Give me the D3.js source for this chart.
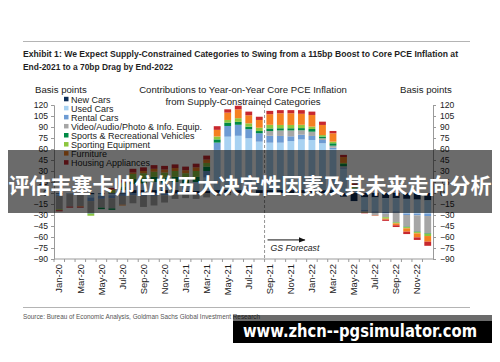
<!DOCTYPE html>
<html>
<head>
<meta charset="utf-8">
<script src="https://cdn.jsdelivr.net/npm/d3@7"></script>
<style>
  body { margin: 0; background: #fff; }
  svg { display: block; }
</style>
</head>
<body>
<div id="chart"></div>
<script>
// months on the x axis
var months = ['Jan-20','Feb-20','Mar-20','Apr-20','May-20','Jun-20','Jul-20','Aug-20','Sep-20','Oct-20','Nov-20','Dec-20',
  'Jan-21','Feb-21','Mar-21','Apr-21','May-21','Jun-21','Jul-21','Aug-21','Sep-21','Oct-21','Nov-21','Dec-21',
  'Jan-22','Feb-22','Mar-22','Apr-22','May-22','Jun-22','Jul-22','Aug-22','Sep-22','Oct-22','Nov-22','Dec-22'];

// contributions in basis points, one array per category
var newCars = [-1,-0.5,-1,-2,-1,-1,-1, 4,4,4,4,4, 3,3,3,4,4.8,4,4,4,4,4,4,4, 4,4,4,-5,-11,-6,-6,-7,-7,-8,-9,-10];
var usedCars = [-2,-1,-1,-4,-3,-2,4, 8,9,11,10,11, 10,12,18,54.7,72,74,70.6,66,64.6,64.6,66.8,69, 68.3,63.8,55.5,33,3,-17,-19,-19,-18,-20,-19,-18];
var rentalCars = [-1,0,0,-5,-4,-4,-3, -3,-4,-4,-3,-2, -2,-2,9,10,14.6,15,12.4,11.5,9.4,9.2,6.5,6.5, 5.5,4.5,2.3,2,1,-2,-2,-2,-2,-2,-2.5,-3.4];
var videoAudio = [-18,-17,-16,-17,-12,-14,-12, -11,-15,-13,-10,-6, -5,-6,-6,-4,-3,-2,0,0,6.5,7.5,8,6, 5.8,2.3,2.7,1.5,1,-1.5,-3,-5,-12.6,-16,-22.2,-23.6];
var sportsRecVehicles = [0,0,0,-0.5,-2,-2,5, 7,7,7,7,7, 7,7,6,4.4,4.6,4,3.5,3,3.5,3,3,3, 3.7,2.4,3.3,3,2,0,0,0,-0.5,-0.5,-0.6,-0.7];
var sportingEquipment = [-1,0,0,-2.5,0,4,5, 7,7,7,7,8, 7,8,5,4,3.6,5,4.5,4.5,5,4.5,4.5,4.5, 3.2,2,2.2,1.5,1,-0.3,-0.3,-2,-1.3,-1.7,-1.7,-3];
var furniture = [-0.5,0,-0.8,0,0,1,-1, 2,3,4,4,4, 4,5,4.5,9,10,12,11,10.6,14.5,15.9,15.9,15, 15.9,13.8,11.4,8,3,-0.4,-0.2,-1.4,-2.6,-4.5,-5.5,-7.7];
var housingAppliances = [-1.5,-1.5,-1.2,0,0,2,4, 5,5,5,5,5, 5,5,5.5,5,4.5,5,5,4.4,4.5,4.3,4.3,5, 4.6,4.5,3.2,3,2,-0.5,-0.5,-1.6,-2.4,-3.3,-3.5,-5.6];

var seriesNames = ['New Cars','Used Cars','Rental Cars','Video/Audio/Photo & Info. Equip.',
  'Sports & Recreational Vehicles','Sporting Equipment','Furniture','Housing Appliances'];
var seriesValues = [newCars, usedCars, rentalCars, videoAudio, sportsRecVehicles, sportingEquipment, furniture, housingAppliances];
var seriesColors = ['#0c2c56','#a8d2f2','#6d9bd3','#a6a6a6','#008a45','#8cc63e','#f58021','#c8282e'];

var yTicks = d3.range(-90, 121, 15);
var xLabels = months.filter(function(m, i) { return i % 2 === 0; });
var forecastStart = 'Sep-21';

var width = 500, height = 362;
var svg = d3.select('#chart').append('svg').attr('width', width).attr('height', height)
  .style('font-family', '"Liberation Sans", Arial, sans-serif');

// header
svg.append('line').attr('x1', 23).attr('x2', 470).attr('y1', 41.5).attr('y2', 41.5)
  .attr('stroke', '#b4b4b4').attr('stroke-width', 1);
var title = svg.append('g').style('font-family', '"Liberation Sans Narrow", "Arial Narrow", "Liberation Sans", sans-serif')
  .style('font-weight', 'bold').style('font-size', '9.6px').attr('fill', '#1f1f1f');
title.append('text').attr('x', 23).attr('y', 56.5).attr('textLength', 435).attr('lengthAdjust', 'spacingAndGlyphs')
  .text('Exhibit 1: We Expect Supply-Constrained Categories to Swing from a 115bp Boost to Core PCE Inflation at');
title.append('text').attr('x', 23).attr('y', 70).attr('textLength', 150).attr('lengthAdjust', 'spacingAndGlyphs')
  .text('End-2021 to a 70bp Drag by End-2022');

svg.append('text').attr('x', 35).attr('y', 93).style('font-size', '9.6px').attr('fill', '#222').text('Basis points');
svg.append('text').attr('x', 400).attr('y', 93).style('font-size', '9.6px').attr('fill', '#222').text('Basis points');
svg.append('text').attr('x', 243).attr('y', 93).attr('text-anchor', 'middle').style('font-size', '9.6px').attr('fill', '#222')
  .text('Contributions to Year-on-Year Core PCE Inflation');
svg.append('text').attr('x', 243).attr('y', 104.5).attr('text-anchor', 'middle').style('font-size', '9.6px').attr('fill', '#222')
  .text('from Supply-Constrained Categories');

// scales
var x = d3.scaleBand().domain(months).range([54, 433]).paddingInner(0.35).paddingOuter(0.175);
var y = d3.scaleLinear().domain([-90, 120]).range([259, 105]);

// stacked bars, positives up and negatives down
var table = months.map(function(m, i) {
  var row = { month: m };
  seriesNames.forEach(function(s, j) { row[s] = seriesValues[j][i]; });
  return row;
});
var stack = d3.stack().keys(seriesNames).offset(d3.stackOffsetDiverging);
var layers = stack(table);

var plot = svg.append('g');
plot.selectAll('g.layer').data(layers).enter().append('g')
  .attr('class', 'layer')
  .attr('fill', function(d, i) { return seriesColors[i]; })
  .selectAll('rect').data(function(d) { return d; }).enter().append('rect')
  .attr('x', function(d) { return x(d.data.month); })
  .attr('width', x.bandwidth())
  .attr('y', function(d) { return y(Math.max(d[0], d[1])); })
  .attr('height', function(d) { return Math.abs(y(d[0]) - y(d[1])); });

// axes
var axisColor = '#9a9a9a';
var left = svg.append('g').attr('transform', 'translate(54,0)')
  .call(d3.axisLeft(y).tickValues(yTicks).tickSize(3).tickPadding(3));
var right = svg.append('g').attr('transform', 'translate(433,0)')
  .call(d3.axisRight(y).tickValues(yTicks).tickSize(3).tickPadding(4));
[left, right].forEach(function(a) {
  a.select('.domain').attr('stroke', axisColor);
  a.selectAll('.tick line').attr('stroke', axisColor);
  a.selectAll('.tick text').attr('fill', '#222').style('font-size', '8.6px')
    .style('font-family', '"Liberation Sans", Arial, sans-serif');
});

// bottom axis like the spreadsheet: line at -90, ticks between months
svg.append('line').attr('x1', 54).attr('x2', 433).attr('y1', y(-90)).attr('y2', y(-90)).attr('stroke', axisColor);
svg.append('g').selectAll('line').data(months).enter().append('line')
  .attr('x1', function(m) { return x(m) - x.step() * x.paddingInner() / 2; })
  .attr('x2', function(m) { return x(m) - x.step() * x.paddingInner() / 2; })
  .attr('y1', y(-90)).attr('y2', y(-90) + 3).attr('stroke', axisColor);

svg.append('g').selectAll('text').data(xLabels).enter().append('text')
  .attr('transform', function(m) { return 'translate(' + (x(m) + x.bandwidth() / 2 + 3.2) + ',' + (y(-90) + 5) + ') rotate(-90)'; })
  .attr('text-anchor', 'end').style('font-size', '9.4px').attr('fill', '#222')
  .text(function(m) { return m; });

// forecast marker
var fx = x(forecastStart) - x.step() * x.paddingInner() / 2;
svg.append('line').attr('x1', fx).attr('x2', fx).attr('y1', y(120)).attr('y2', y(-90))
  .attr('stroke', '#7a7a7a').attr('stroke-dasharray', '3,2').attr('stroke-width', 0.8);
svg.append('defs').append('marker').attr('id', 'arrow').attr('viewBox', '0 0 10 10')
  .attr('refX', 9).attr('refY', 5).attr('markerWidth', 7).attr('markerHeight', 7).attr('orient', 'auto')
  .append('path').attr('d', 'M0,1L10,5L0,9Z').attr('fill', '#111');
svg.append('line').attr('x1', fx + 3).attr('x2', x('Dec-21') + x.bandwidth()).attr('y1', y(-64)).attr('y2', y(-64))
  .attr('stroke', '#111').attr('stroke-width', 1).attr('marker-end', 'url(#arrow)');
svg.append('text').attr('x', fx + 6).attr('y', 251).style('font-size', '8.7px').style('font-style', 'italic')
  .attr('fill', '#222').text('GS Forecast');

// legend
var legend = svg.append('g').selectAll('g').data(seriesNames).enter().append('g')
  .attr('transform', function(d, i) { return 'translate(64,' + (99.3 + i * 9.05) + ')'; });
legend.append('rect').attr('x', 0).attr('y', -2.5).attr('width', 4.5).attr('height', 4.5)
  .attr('fill', function(d, i) { return seriesColors[i]; });
legend.append('text').attr('x', 7).attr('y', 3.2).style('font-size', '9px').attr('fill', '#222')
  .text(function(d) { return d; });

// footer
svg.append('line').attr('x1', 23).attr('x2', 470).attr('y1', 307.5).attr('y2', 307.5)
  .attr('stroke', '#b4b4b4').attr('stroke-width', 1);
svg.append('text').attr('x', 23).attr('y', 319).attr('textLength', 237).attr('lengthAdjust', 'spacingAndGlyphs')
  .style('font-family', '"Liberation Sans Narrow", "Arial Narrow", "Liberation Sans", sans-serif')
  .style('font-size', '6.5px').attr('fill', '#555')
  .text('Source: Bureau of Economic Analysis, Goldman Sachs Global Investment Research');

// overlay banner and watermark box
svg.append('rect').attr('x', 8).attr('y', 150).attr('width', 484).attr('height', 63)
  .attr('fill', 'rgba(0,0,0,0.58)');
svg.append('text').attr('x', 250).attr('y', 192.5).attr('text-anchor', 'middle')
  .style('font-family', '"Noto Sans CJK SC", sans-serif').style('font-weight', 'bold').style('font-size', '21px')
  .attr('fill', '#fff').text('评估丰塞卡帅位的五大决定性因素及其未来走向分析');

svg.append('rect').attr('x', 233).attr('y', 315).attr('width', 259).attr('height', 6).attr('fill', 'rgba(0,0,0,0.58)');
svg.append('rect').attr('x', 233).attr('y', 321).attr('width', 259).attr('height', 22).attr('fill', '#000');
svg.append('text').attr('x', 243).attr('y', 337).attr('textLength', 234).attr('lengthAdjust', 'spacingAndGlyphs')
  .style('font-family', '"DejaVu Sans", sans-serif').style('font-weight', 'bold').style('font-size', '17px')
  .attr('fill', '#fff').text('www.zhcn--pgsimulator.com');
</script>
</body>
</html>
